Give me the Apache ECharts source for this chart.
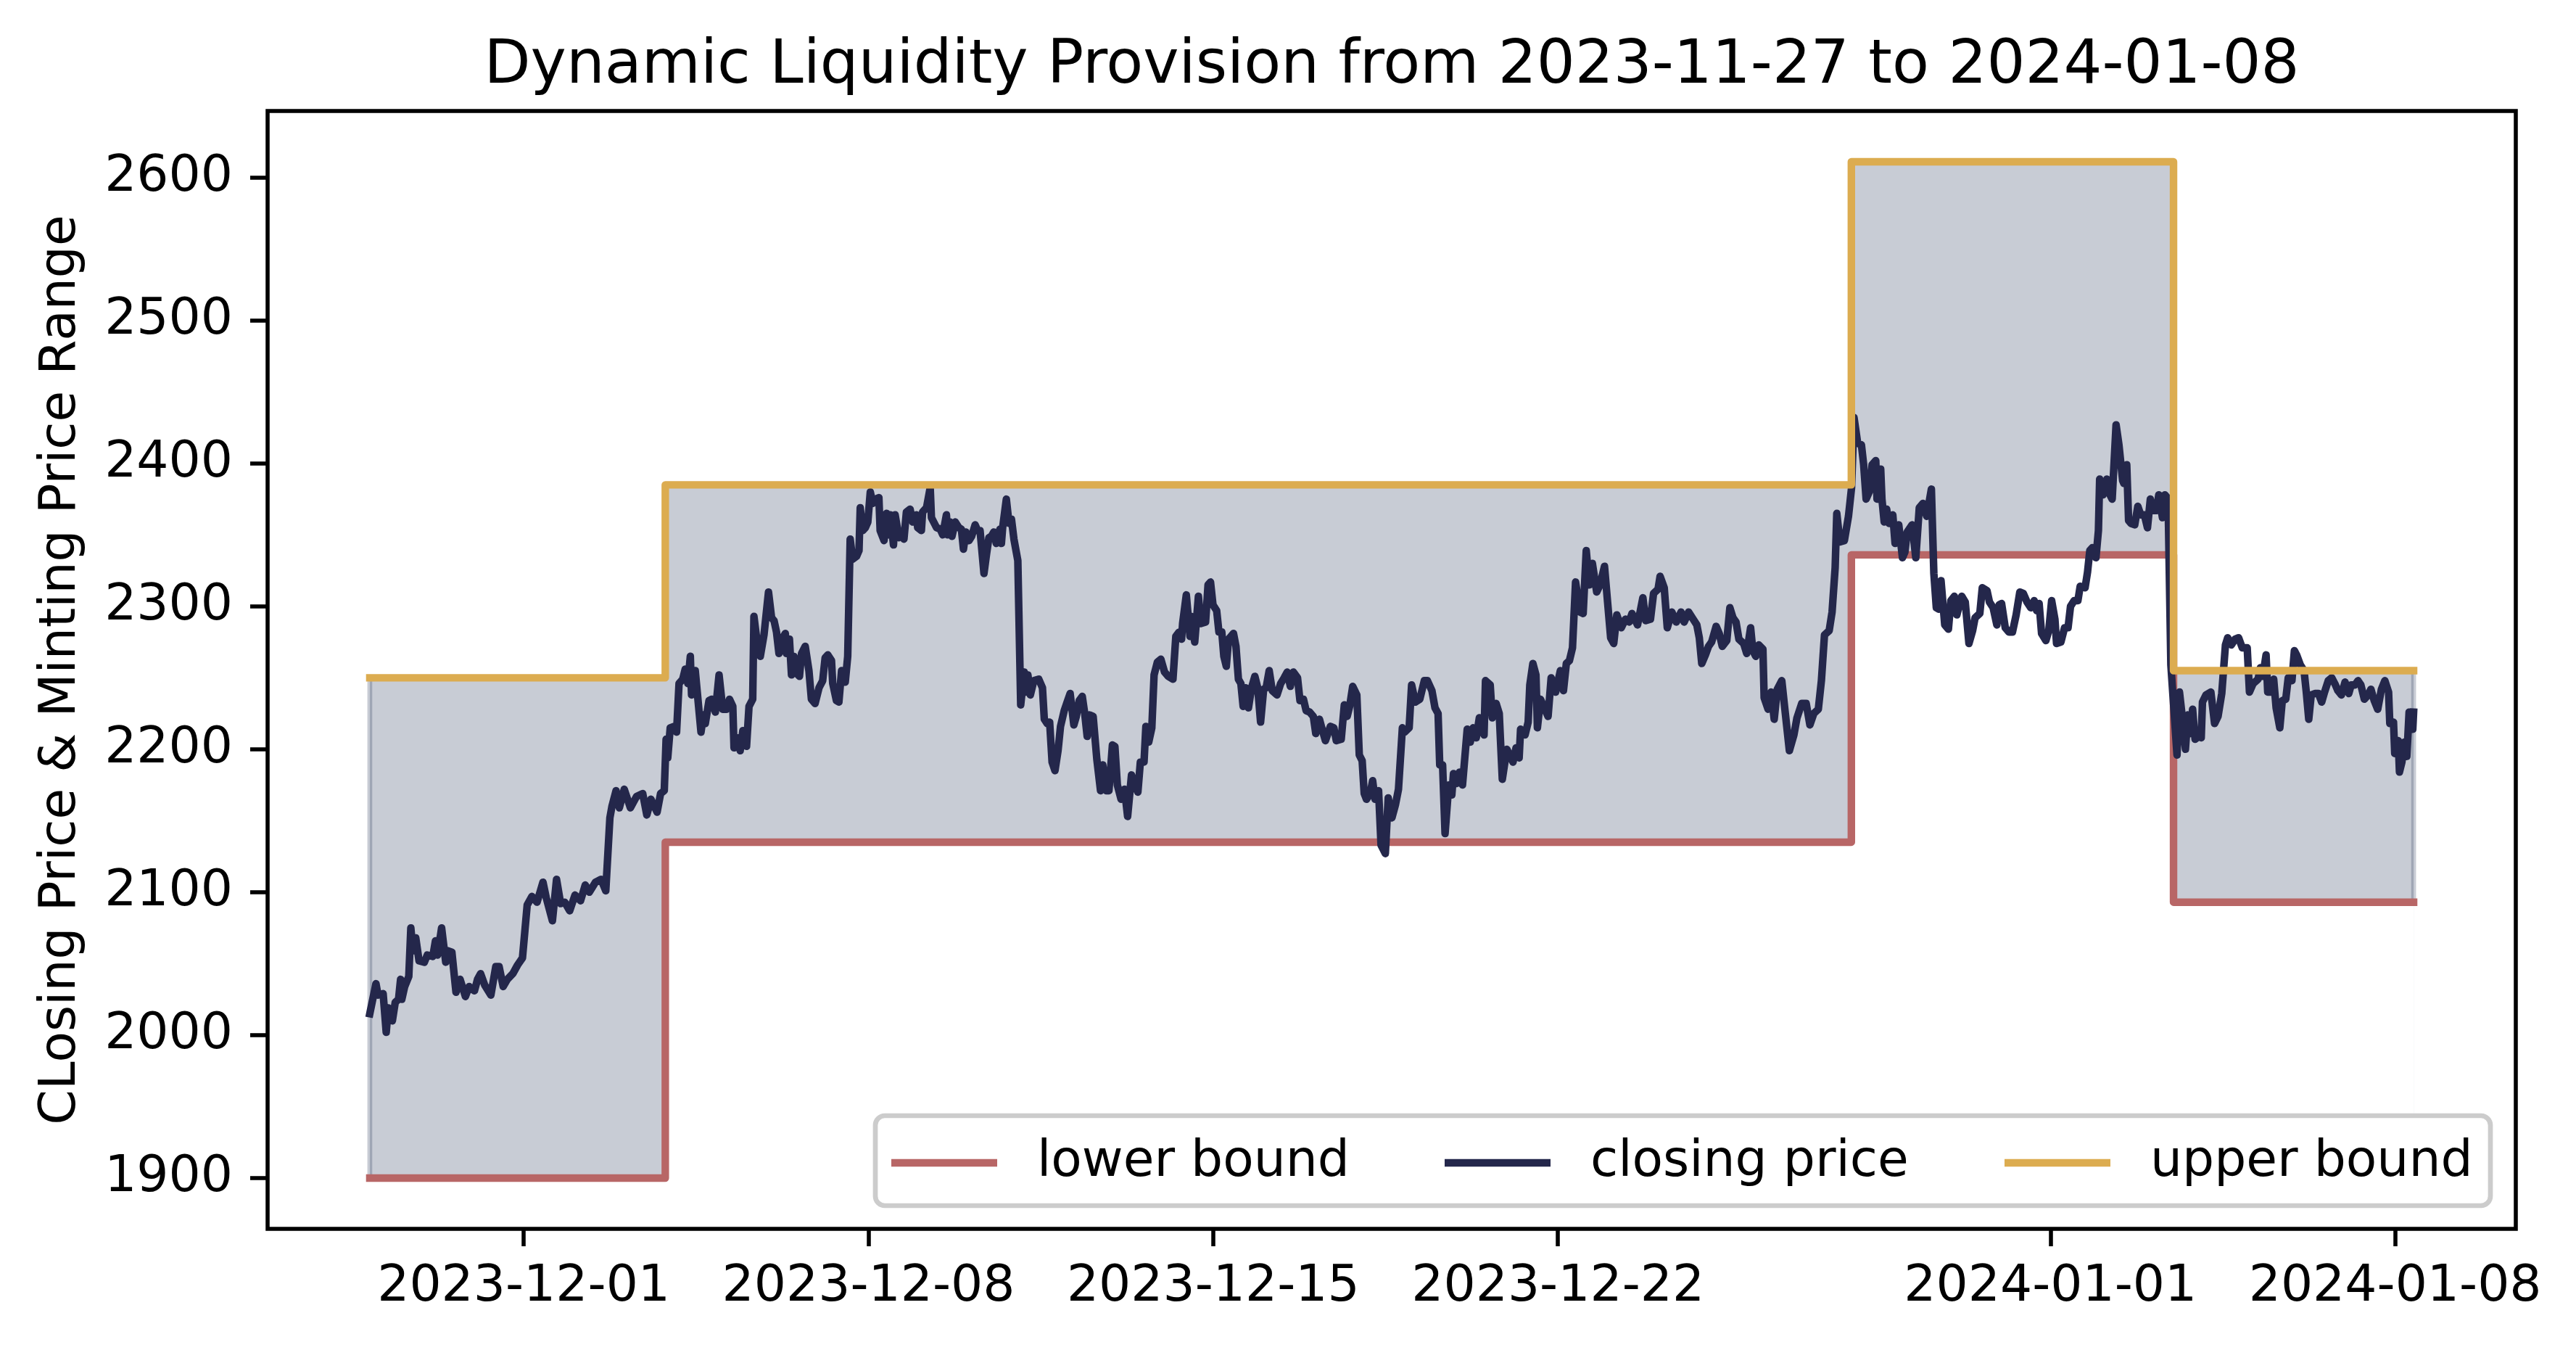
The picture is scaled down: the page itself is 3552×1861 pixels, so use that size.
<!DOCTYPE html>
<html><head><meta charset="utf-8">
<script src="https://cdn.jsdelivr.net/npm/echarts@6/dist/echarts.min.js"></script>
<style>html,body{margin:0;padding:0;background:#fff}#chart{width:3552px;height:1861px}</style>
</head><body><div id="chart"></div>
<script>
// ---------- data ----------
const START = '2023-11-27T21:00:00Z';      // first hourly sample
const seriesNames = ['lower bound', 'closing price', 'upper bound'];
const titleText = 'Dynamic Liquidity Provision from 2023-11-27 to 2024-01-08';
const yAxisTitle = 'CLosing Price & Minting Price Range';
const xTickLabels = ['2023-12-01', '2023-12-08', '2023-12-15', '2023-12-22', '2024-01-01', '2024-01-08'];
const yTickLabels = [1900, 2000, 2100, 2200, 2300, 2400, 2500, 2600];

// hours after START at which the range changes (last = end of data)
const boundHours = [0, 144, 722, 879, 996];
const lowerBound = [1900, 2135, 2336, 2093, 2093];
const upperBound = [2250, 2385, 2611, 2255, 2255];

// closing price, hours after START
const priceHours = [
0,3,4,6.5,8,9,11,12.4,14,15,15.6,17,19,20,21,22.4,24,26.6,28,30.7,32,33,35,37,38,40,42,44,46.6,48.4,51,52.5,54,56,59,61.4,63,65,67,69.7,72,74.4,76.7,79,81.5,84.4,86,89,91,93,95,97.4,100,102.7,105,107,110,112.7,115,117,118,120,121.6,124,127,130,133,135,137,140,141.7,143.5,
144.4,145.2,146.4,148.3,149.5,150.7,152.5,153.7,155,156.2,156.8,158.6,161.4,162.6,163.5,165.3,166.5,168.4,170.2,172,173.8,175.3,176.9,177.5,179.3,180.5,181.8,183.6,184.8,186.6,187.2,189,190.3,192.1,194.3,195.8,197,198.2,199.4,201.2,202.5,203,204.5,205.5,206.7,208,209.4,210.4,212.2,214,215.2,217,218.9,220.7,221.9,223.2,225,225.6,227.4,228.6,229.9,231.7,232.9,234.1,235.3,237.2,238.4,239,240.2,241.5,242.7,243.9,245.1,246.4,248.1,248.7,250.6,251.8,253.1,253.7,255.2,256,257.9,259.1,260.3,261.5,263.3,264.6,266.4,267,268.8,269.4,271.3,273.1,273.7,276.2,278,279.2,281,281.6,282.8,283.7,285.3,287.1,288.3,289.3,290.5,292,293.3,295,296.2,297.4,299.3,300.5,301.7,302.9,304.1,305.3,307.1,307.8,308.4,310.2,311.5,312.7,313.9,315.8,
317.2,318.9,320.1,320.7,321.9,323.6,326,327.8,328.7,330.1,331.3,332.5,333.9,335.4,336.6,338.4,339.6,341.3,343.1,344.3,345.7,347.2,348.4,349.6,350.8,352.5,354.3,356.1,357.2,359,360.2,361.9,363.1,364.3,366.1,367.8,369.3,371.2,372.8,374.3,375.5,377.3,378.2,379.6,381.1,382.2,383.8,385.5,387.3,389.1,391.4,392.8,394.4,395.6,396.1,397.9,399.7,400.3,402,403.8,405,407.3,408.5,409.7,410.9,412.7,413.8,415.2,416.2,417.4,418.5,420.9,422.1,423.3,424.5,425.6,426.8,428.2,429.7,431.3,432.7,434.1,435.6,436.8,438.3,439.8,442.1,443.9,445.6,447.1,448.6,450.1,452.1,453.3,455,456.3,458,459.8,461,462.8,463.9,465.7,468.1,469.8,471,473.4,474.9,476.3,477.5,479,481,482.2,483.6,484.6,485.7,487.5,488.7,489.9,491.6,492.8,494.9,496.3,498.1,
499.8,501.3,503.2,504.3,506.5,507.7,509.5,511.7,513.9,515.4,517.6,519.1,520.6,521.4,522.8,524,525.8,527.3,528.1,529.6,531.1,532.5,534.8,536.3,537.7,539.2,540.7,543,543.7,546,547,548.9,550.4,551.9,554.1,557.1,558.6,560.1,560.8,563,564.5,565.3,566.8,568.3,569,570.5,574.2,575.7,577.9,580.2,581.7,583.1,584.6,586.1,587.6,589.8,591.3,592.8,594.3,595.8,597.9,599.5,601.7,603.2,604.7,606.2,607.7,609.9,611.9,613.7,615.1,617.8,620.4,621.8,624.1,625.6,627.8,628.8,630.8,632.3,634.5,636.7,639,640.5,642.7,644.9,646.7,647.9,649.1,650.9,652.4,653.9,656.1,657.6,659.1,661.3,662.8,664.3,665.8,667.2,669.5,671,672.9,674,675.4,676.9,678.9,679.5,681.4,682.9,684.4,685.9,688.1,689.6,691.8,694,695.5,697.8,700,701.8,703.7,705.9,707.4,708.9,711.2,712.6,714.1,714.9,716.4,718.6,720.6,722.1,
723.3,725.1,726.9,728,729.2,731,732.1,733.9,734.5,736.3,736.9,738,739.2,740.4,742.2,743.3,745.1,746.9,748.1,749.2,751.6,753.4,755.1,756.9,758.7,761,762.2,763.4,764.6,765.7,767.5,769.3,770.5,772.2,773.4,775.8,777.5,779.3,781.1,782.3,784.6,785.8,788.1,789.3,791.1,792.9,794,795.2,797,798.8,800.5,802.3,804.1,805.8,807.6,809.4,811.1,812.3,813.5,814.7,816.8,818.2,819.6,821.2,822,824.1,825.9,827.6,828.8,830.6,832.4,833.5,835.9,837.1,838.2,839.4,841.2,842.4,843,844.7,846.5,847.7,849.1,851,852.4,854.2,854.8,856.2,857.1,858.3,860.1,861.6,863,864.8,866.3,867.7,868.9,870.7,871.8,873.6,874.8,876,
876.5,877.7,880.7,881.9,883,884.8,886,887.2,888.3,889.5,891.3,892.5,893.1,894.8,897.2,899,900.7,902.5,904.3,905.4,907.2,909,910.7,912.5,914.9,916,917.8,920.2,921.3,922.5,924.1,924.9,926.3,927.8,929,930.8,932,933.7,934.9,936.7,937.9,939,940.8,942.6,943.7,944.9,946.1,947.9,949.6,951.2,952.6,954.4,956.1,957.9,959.1,960.8,962.6,964.4,965.6,967.4,968.9,970.3,972,973.8,975.2,976.8,978.5,980.3,982,983.8,984.4,986.2,986.8,988.5,989.1,990.3,991.5,992.7,993.8,995.6,996
];
const priceValues = [
2015,2036,2028,2029,2002,2019,2010,2023,2025,2039,2025,2034,2041,2075,2059,2068,2052,2051,2056,2055,2066,2056,2075,2051,2059,2058,2030,2039,2027,2034,2031,2039,2043,2035,2028,2048,2048,2034,2039,2043,2049,2054,2091,2097,2093,2107,2096,2080,2109,2092,2093,2087,2098,2094,2105,2100,2107,2109,2101,2152,2160,2171,2159,2172,2159,2167,2169,2154,2165,2156,2169,2171,
2207,2194,2215,2216,2212,2246,2249,2256,2246,2265,2238,2255,2212,2224,2218,2234,2235,2226,2252,2228,2228,2235,2230,2201,2208,2199,2213,2202,2230,2235,2293,2272,2265,2280,2310,2292,2290,2282,2267,2278,2281,2267,2277,2252,2265,2253,2251,2267,2272,2255,2235,2232,2243,2248,2264,2266,2262,2246,2234,2233,2255,2247,2265,2347,2333,2335,2339,2369,2353,2355,2359,2380,2372,2375,2376,2353,2346,2365,2350,2364,2343,2364,2348,2351,2347,2366,2368,2359,2364,2355,2353,2366,2369,2383,2362,2355,2354,2350,2364,2350,2359,2349,2359,2355,2354,2340,2352,2346,2349,2357,2353,2353,2323,2336,2348,2349,2352,2344,2354,2344,2355,2375,2358,2361,2347,2332,
2231,2254,2240,2252,2238,2248,2249,2243,2221,2218,2219,2191,2185,2199,2216,2227,2232,2239,2217,2223,2234,2237,2225,2209,2224,2223,2193,2171,2189,2171,2171,2203,2202,2175,2165,2172,2153,2182,2175,2170,2191,2191,2216,2205,2215,2252,2261,2263,2254,2251,2249,2279,2282,2277,2288,2308,2279,2293,2275,2307,2288,2289,2315,2317,2301,2297,2282,2282,2265,2258,2277,2281,2272,2249,2246,2230,2243,2229,2243,2251,2243,2219,2242,2243,2255,2241,2238,2246,2250,2254,2244,2254,2250,2234,2235,2227,2226,2223,2211,2221,2215,2206,2216,2215,2206,2207,2231,2223,2230,2244,2238,2196,2192,2169,2165,2169,2178,2165,2171,2133,2127,2166,2152,
2161,2172,2215,2212,2215,2245,2233,2235,2248,2248,2241,2229,2225,2189,2189,2141,2175,2168,2183,2176,2184,2175,2214,2205,2215,2208,2222,2210,2248,2245,2222,2232,2225,2179,2200,2191,2201,2194,2214,2210,2219,2245,2260,2252,2215,2235,2223,2250,2240,2255,2241,2260,2262,2271,2317,2296,2295,2339,2315,2330,2310,2315,2328,2303,2278,2274,2294,2285,2291,2289,2295,2287,2306,2290,2291,2309,2312,2321,2313,2285,2296,2289,2296,2289,2296,2291,2287,2278,2260,2266,2272,2275,2286,2281,2272,2276,2299,2292,2289,2277,2274,2267,2285,2269,2265,2273,2270,2236,2228,2240,2221,2242,2248,2228,2199,2210,2222,2232,2232,2217,2225,2228,2248,2280,2283,2296,2327,2365,2345,2346,2363,2383,
2432,2414,2413,2399,2375,2381,2399,2402,2375,2396,2375,2359,2368,2358,2364,2344,2357,2334,2338,2352,2357,2334,2369,2372,2363,2382,2323,2299,2298,2318,2287,2284,2304,2307,2294,2307,2303,2274,2283,2292,2295,2313,2311,2303,2299,2287,2301,2302,2285,2282,2282,2294,2310,2309,2303,2299,2304,2297,2302,2281,2276,2283,2304,2291,2274,2275,2285,2285,2300,2304,2304,2314,2313,2324,2339,2341,2334,2353,2389,2378,2389,2379,2375,2427,2413,2388,2386,2399,2360,2358,2357,2370,2364,2364,2355,2375,2367,2367,2378,2362,2378,2376,
2361,2259,2196,2240,2226,2200,2224,2211,2228,2207,2209,2208,2233,2238,2240,2218,2223,2239,2273,2278,2273,2277,2278,2271,2271,2240,2246,2249,2257,2251,2266,2240,2240,2249,2229,2215,2234,2235,2250,2248,2269,2266,2259,2255,2240,2221,2238,2239,2239,2233,2240,2248,2250,2245,2241,2238,2247,2239,2245,2245,2248,2245,2235,2238,2242,2234,2228,2242,2248,2240,2218,2219,2197,2206,2184,2191,2205,2195,2226,2214,2226
];

// ---------- build ----------
const T0 = Date.parse(START);
const HOUR = 3600 * 1000;
const toTime = h => T0 + h * HOUR;
const parseDay = s => { const p = s.split('-').map(Number); return Date.UTC(p[0], p[1] - 1, p[2]); };
const pad2 = n => (n < 10 ? '0' : '') + n;
const fmtDay = v => { const d = new Date(Math.round(v)); return d.getUTCFullYear() + '-' + pad2(d.getUTCMonth() + 1) + '-' + pad2(d.getUTCDate()); };

const lowerData = boundHours.map((h, i) => [toTime(h), lowerBound[i]]);
const upperData = boundHours.map((h, i) => [toTime(h), upperBound[i]]);
const priceData = priceHours.map((h, i) => [toTime(h), priceValues[i]]);
const last = boundHours.length - 1;
const leftEdge = [[toTime(boundHours[0]), lowerBound[0]], [toTime(boundHours[0]), upperBound[0]]];
const rightEdge = [[toTime(boundHours[last]), lowerBound[last]], [toTime(boundHours[last]), upperBound[last]]];
const fillOrigin = Math.min.apply(null, lowerBound);

// matplotlib-style 5% margins
const tMin = toTime(boundHours[0]), tMax = toTime(boundHours[last]);
const xPad = 0.05 * (tMax - tMin);
const allY = lowerBound.concat(upperBound, priceValues);
const yLo = Math.min.apply(null, allY), yHi = Math.max.apply(null, allY);
const yPad = 0.05 * (yHi - yLo);

const FONT = 'DejaVu Sans';
const FS = 69.5;
const C_LOWER = '#b86666', C_PRICE = '#24274b', C_UPPER = '#dcac50';
const C_FILL = 'rgba(35,51,87,0.25)';
const LW = 10.4;
const SPINE = 5.55;

const legendLefts = [1229, 1992, 2764];

const chart = echarts.init(document.getElementById('chart'), null, { renderer: 'canvas' });
chart.setOption({
  animation: false,
  backgroundColor: '#ffffff',
  textStyle: { fontFamily: FONT },
  title: {
    text: titleText, left: 1919, top: 51, textAlign: 'center', padding: 0,
    textStyle: { fontFamily: FONT, fontSize: 83.3, fontWeight: 'normal', color: '#000' }
  },
  grid: {
    left: 369, right: 83, top: 153, bottom: 167, containLabel: false,
    show: true, borderColor: '#000', borderWidth: SPINE, backgroundColor: 'transparent'
  },
  xAxis: {
    type: 'value', min: tMin - xPad, max: tMax + xPad, scale: true,
    axisLine: { show: false },
    splitLine: { show: false },
    axisTick: { show: true, inside: false, length: 24, lineStyle: { color: '#000', width: SPINE },
      customValues: xTickLabels.map(parseDay) },
    axisLabel: { show: true, margin: 46, fontSize: FS, color: '#000', fontFamily: FONT,
      customValues: xTickLabels.map(parseDay), formatter: v => fmtDay(v) }
  },
  yAxis: {
    type: 'value', min: yLo - yPad, max: yHi + yPad, scale: true,
    name: yAxisTitle, nameLocation: 'middle', nameGap: 249, nameRotate: 90,
    nameTextStyle: { fontSize: FS, color: '#000', fontFamily: FONT },
    axisLine: { show: false },
    splitLine: { show: false },
    axisTick: { show: true, inside: false, length: 24, lineStyle: { color: '#000', width: SPINE },
      customValues: yTickLabels },
    axisLabel: { show: true, margin: 48, fontSize: FS, color: '#000', fontFamily: FONT,
      customValues: yTickLabels, formatter: v => String(Math.round(v)) }
  },
  legend: seriesNames.map((name, i) => ({
    data: [name], left: legendLefts[i], top: 1568, padding: 0, selectedMode: false,
    icon: 'rect', itemWidth: 146, itemHeight: 10.4, z: 10,
    textStyle: { fontSize: FS, color: '#000', fontFamily: FONT, padding: [0, 0, 0, 50] }
  })),
  graphic: [{
    type: 'rect', z: 5, silent: true,
    shape: { x: 1207, y: 1538, width: 2227, height: 124, r: 13 },
    style: { fill: 'rgba(255,255,255,0.8)', stroke: '#cccccc', lineWidth: 6.7 }
  }],
  series: [
    { name: 'fillUpper', type: 'line', data: upperData, step: 'end', symbol: 'none',
      lineStyle: { width: 0, opacity: 0 }, areaStyle: { color: C_FILL, opacity: 1, origin: fillOrigin },
      z: 1, silent: true },
    { name: 'fillMask', type: 'line', data: lowerData, step: 'end', symbol: 'none',
      lineStyle: { width: 0, opacity: 0 }, areaStyle: { color: '#ffffff', opacity: 1, origin: fillOrigin },
      z: 2, silent: true },
    { name: 'edgeL', type: 'line', data: leftEdge, symbol: 'none',
      lineStyle: { color: C_FILL, width: 6.7 }, z: 3, silent: true },
    { name: 'edgeR', type: 'line', data: rightEdge, symbol: 'none',
      lineStyle: { color: C_FILL, width: 6.7 }, z: 3, silent: true },
    { name: seriesNames[0], type: 'line', data: lowerData, step: 'end', symbol: 'none', color: C_LOWER,
      lineStyle: { color: C_LOWER, width: LW, join: 'round', cap: 'square' }, z: 4 },
    { name: seriesNames[1], type: 'line', data: priceData, symbol: 'none', color: C_PRICE,
      lineStyle: { color: C_PRICE, width: LW, join: 'round', cap: 'square' }, z: 5 },
    { name: seriesNames[2], type: 'line', data: upperData, step: 'end', symbol: 'none', color: C_UPPER,
      lineStyle: { color: C_UPPER, width: LW, join: 'round', cap: 'square' }, z: 6 }
  ]
});
</script>
</body></html>
